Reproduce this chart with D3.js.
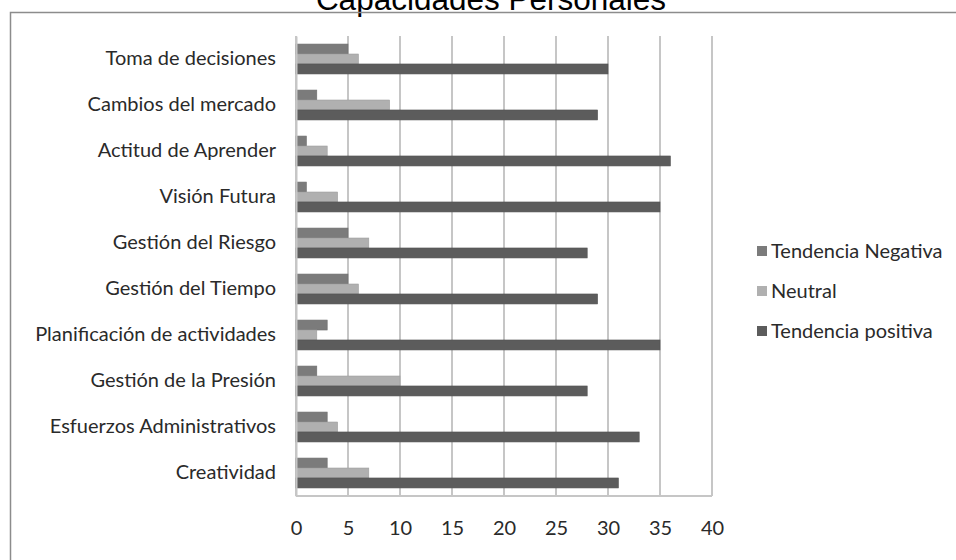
<!DOCTYPE html>
<html><head><meta charset="utf-8">
<script src="https://cdn.jsdelivr.net/npm/d3@7"></script>
<style>body{margin:0;background:#fff}svg{display:block}</style>
</head><body>
<svg id="c" width="956" height="560"></svg>
<script>
const categories = ["Toma de decisiones","Cambios del mercado","Actitud de Aprender","Visión Futura","Gestión del Riesgo","Gestión del Tiempo","Planificación de actividades","Gestión de la Presión","Esfuerzos Administrativos","Creatividad"];
const seriesNames = ["Tendencia Negativa","Neutral","Tendencia positiva"];
const negativa = [5,2,1,1,5,5,3,2,3,3];
const neutral  = [6,9,3,4,7,6,2,10,4,7];
const positiva = [30,29,36,35,28,29,35,28,33,31];
const xTicks = [0,5,10,15,20,25,30,35,40];
const colors = ["#7b7b7b","#b0b0b0","#5c5c5c"];
const title = "Capacidades Personales";

const svg = d3.select("#c");
const m = {l:296, r:712, t:36, b:496};
svg.append("text").attr("x",491).attr("y",10).attr("text-anchor","middle")
  .attr("font-family","Liberation Sans, Arial").attr("font-size",31.5).attr("fill","#000").text(title);
svg.append("rect").attr("x",10.5).attr("y",12.5).attr("width",960).attr("height",560)
  .attr("fill","none").attr("stroke","#8c8c8c").attr("stroke-width",1.5);

const x = d3.scaleLinear().domain([0,40]).range([m.l,m.r]);
const y = d3.scaleBand().domain(categories).range([m.t,m.b]).paddingInner(0.35).paddingOuter(0.175);
const ys = d3.scaleBand().domain(seriesNames).range([0,y.bandwidth()]);

// gridlines
svg.append("g").selectAll("line").data(xTicks).join("line")
  .attr("x1",d=>x(d)).attr("x2",d=>x(d)).attr("y1",m.t).attr("y2",m.b)
  .attr("stroke","#c6c6c6").attr("stroke-width",2);
svg.append("line").attr("x1",m.l).attr("x2",m.r).attr("y1",m.b).attr("y2",m.b).attr("stroke","#c6c6c6").attr("stroke-width",2);

const data = [negativa,neutral,positiva];
seriesNames.forEach((s,si)=>{
  svg.append("g").selectAll("rect").data(categories).join("rect")
    .attr("x",x(0)).attr("y",(c)=>y(c)+ys(s)).attr("height",ys.bandwidth())
    .attr("width",(c,i)=>x(data[si][i])-x(0))
    .attr("fill",colors[si]).attr("stroke",d3.color(colors[si]).darker(0.3)).attr("stroke-width",0.6);
});

const font = "Lato, sans-serif";
const fs = 20;
// axes
const xa = svg.append("g").attr("transform",`translate(0,${m.b})`)
  .call(d3.axisBottom(x).tickValues(xTicks).tickSize(0).tickPadding(25));
xa.select(".domain").remove();
xa.selectAll("text").attr("font-family",font).attr("font-size",fs).attr("fill","#2a2a2a");

const ya = svg.append("g").attr("transform",`translate(${m.l},0)`)
  .call(d3.axisLeft(y).tickSize(0).tickPadding(20));
ya.select(".domain").attr("stroke","#c6c6c6").attr("stroke-width",2);
ya.selectAll("text").attr("font-family",font).attr("font-size",fs).attr("fill","#2a2a2a")
  .attr("dy","0.3em");

// legend
const lg = svg.append("g");
const ly = [251,291,331];
seriesNames.forEach((s,i)=>{
  lg.append("rect").attr("x",757).attr("y",ly[i]-5).attr("width",10).attr("height",10).attr("fill",colors[i]);
  lg.append("text").attr("x",771).attr("y",ly[i]).attr("dy","0.35em")
    .attr("font-family",font).attr("font-size",fs).attr("fill","#2a2a2a").text(s);
});
</script>
</body></html>
